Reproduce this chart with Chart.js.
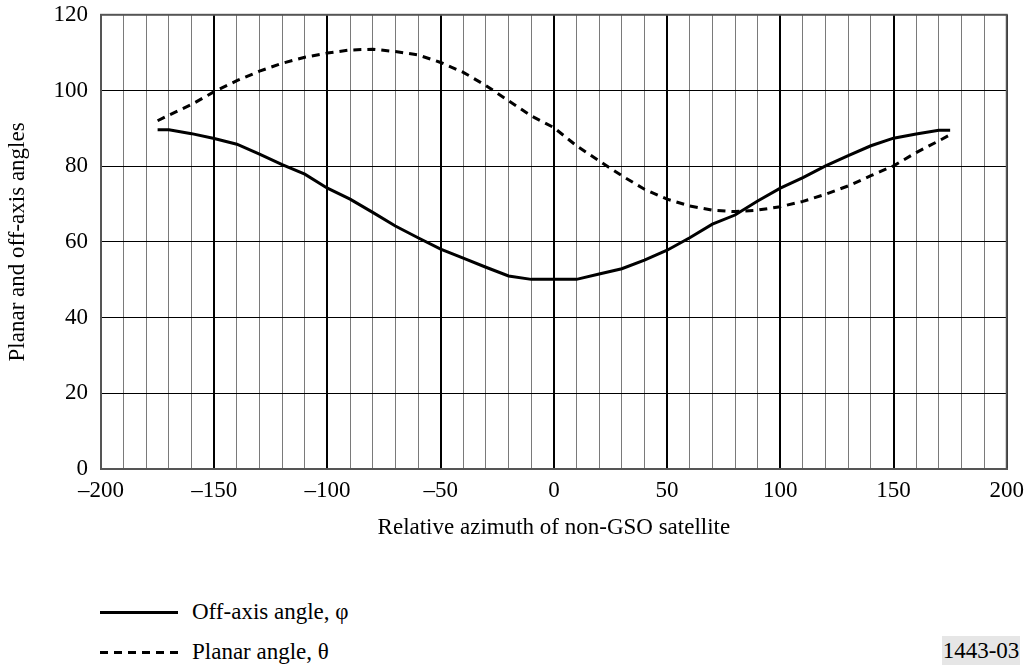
<!DOCTYPE html>
<html>
<head>
<meta charset="utf-8">
<script src="https://cdn.jsdelivr.net/npm/chart.js@4.4.1/dist/chart.umd.min.js"></script>
<style>
    html, body { margin: 0; padding: 0; background: #fff; }
    body { width: 1032px; height: 668px; position: relative; overflow: hidden;
           font-family: "Liberation Serif", "Times New Roman", serif; color: #000; }
    #wrap { position: absolute; left: 0; top: -12px; width: 1032px; height: 572px; }
    .key { position: absolute; left: 100px; font-size: 23px; line-height: 26px; }
    .key .ln { position: absolute; left: 0; width: 78px; top: 12px; }
    .key span { position: absolute; left: 92px; top: 0; white-space: nowrap; }
    #k1 { top: 599px; }
    #k2 { top: 639px; }
    #k1 .ln { border-top: 3px solid #000; }
    #k2 .ln { top: 12px; height: 3px; width: 78px;
              background: repeating-linear-gradient(90deg, #000 0 8px, transparent 8px 14px); }
    #ref { position: absolute; left: 942px; top: 636px; width: 78px; height: 29px;
           background: #e6e6e6; font-size: 23px; line-height: 29px; text-align: center; }
</style>
</head>
<body>
<div id="wrap"><canvas id="angleChart"></canvas></div>
<div class="key" id="k1"><div class="ln"></div><span>Off-axis angle, φ</span></div>
<div class="key" id="k2"><div class="ln"></div><span>Planar angle, θ</span></div>
<div id="ref">1443-03</div>

<script>
// Relative azimuth (deg) and the two angle curves
var azimuth = [-175, -170, -160, -150, -140, -130, -120, -110, -100, -90, -80, -70, -60, -50, -40, -30, -20, -10,
    0, 10, 20, 30, 40, 50, 60, 70, 80, 90, 100, 110, 120, 130, 140, 150, 160, 170, 175];
var offAxis = [89.6, 89.6, 88.6, 87.3, 85.8, 83.2, 80.4, 77.9, 74.2, 71.3, 67.8, 64.2, 61.1, 58.1, 55.7, 53.3, 51.0, 50.1,
    50.1, 50.1, 51.5, 52.9, 55.2, 57.8, 61.1, 64.7, 67.1, 70.8, 74.2, 77.0, 80.1, 82.8, 85.4, 87.4, 88.5, 89.5, 89.5];
var planar = [92.0, 93.5, 96.3, 99.7, 102.6, 105.1, 107.2, 108.8, 109.9, 110.7, 110.9, 110.3, 109.4, 107.4, 104.8, 101.3, 97.3, 93.3,
    90.2, 85.4, 81.4, 77.5, 73.9, 71.3, 69.5, 68.4, 68.0, 68.4, 69.3, 70.7, 72.6, 74.8, 77.5, 80.1, 83.6, 86.7, 88.3];

var xMin = -200, xMax = 200, xStep = 10;
var yMin = 0, yMax = 120, yStep = 20;

function toPoints(xs, ys) {
    return xs.map(function (x, i) { return { x: x, y: ys[i] }; });
}

var serif = "'Liberation Serif', 'Times New Roman', serif";
var fontTicks = { family: serif, size: 23 };
var fontTitle = { family: serif, size: 23 };

var ctx = document.getElementById('angleChart').getContext('2d');
var chart = new Chart(ctx, {
    type: 'line',
    data: {
        datasets: [{
            label: 'Off-axis angle, φ',
            data: toPoints(azimuth, offAxis),
            borderColor: '#000',
            borderWidth: 3,
            pointRadius: 0,
            fill: false
        }, {
            label: 'Planar angle, θ',
            data: toPoints(azimuth, planar),
            borderColor: '#000',
            borderWidth: 3,
            borderDash: [8, 6],
            pointRadius: 0,
            fill: false
        }]
    },
    options: {
        responsive: true,
        maintainAspectRatio: false,
        animation: false,
        layout: { padding: { top: 2, right: 24, left: 0, bottom: 18 } },
        plugins: {
            legend: { display: false },
            tooltip: { enabled: false }
        },
        scales: {
            x: {
                type: 'linear',
                min: xMin,
                max: xMax,
                afterFit: function (scale) { scale.height = 73; },
                ticks: {
                    stepSize: xStep,
                    autoSkip: false,
                    maxRotation: 0,
                    padding: 8,
                    color: '#000',
                    font: fontTicks,
                    callback: function (v) {
                        if (v % 50 !== 0) return '';
                        return v < 0 ? '\u2013' + Math.abs(v) : String(v);
                    }
                },
                grid: {
                    drawTicks: false,
                    color: function (c) {
                        return (c.tick && c.tick.value % 50 === 0) ? '#000' : '#7a7a7a';
                    },
                    lineWidth: function (c) {
                        return (c.tick && c.tick.value % 50 === 0) ? 2 : 1;
                    }
                },
                border: { color: '#555', width: 2 },
                title: {
                    display: true,
                    text: 'Relative azimuth of non-GSO satellite',
                    color: '#000',
                    font: fontTitle,
                    padding: { top: 4, bottom: 0 }
                }
            },
            y: {
                min: yMin,
                max: yMax,
                afterFit: function (scale) { scale.width = 101; },
                ticks: {
                    stepSize: yStep,
                    padding: 13,
                    color: '#000',
                    font: fontTicks
                },
                grid: {
                    drawTicks: false,
                    color: '#000',
                    lineWidth: 1
                },
                border: { color: '#555', width: 2 },
                title: {
                    display: true,
                    text: 'Planar and off-axis angles',
                    color: '#000',
                    font: fontTitle,
                    padding: { top: 4, bottom: 0 }
                }
            }
        }
    },
    plugins: [{
        // close the frame on the top and right sides
        id: 'frame',
        afterDraw: function (c) {
            var a = c.chartArea, g = c.ctx;
            g.save();
            g.strokeStyle = '#555';
            g.lineWidth = 2;
            g.strokeRect(a.left, a.top, a.right - a.left, a.bottom - a.top);
            g.restore();
        }
    }]
});
</script>
</body>
</html>
